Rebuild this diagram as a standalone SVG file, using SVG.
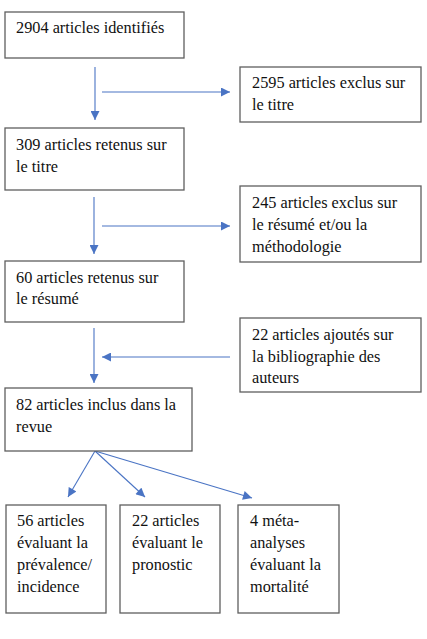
<svg xmlns="http://www.w3.org/2000/svg" width="427" height="639" viewBox="0 0 427 639">
<defs>
<style>
.box{fill:#fff;stroke:#5f5f5f;stroke-width:1.3}
.t{font-family:'Liberation Serif','Times New Roman',serif;font-size:16.3px;fill:#111}
.c{stroke:#4a74c4;stroke-width:1.1;fill:none;marker-end:url(#ah)}
</style>
<marker id="ah" viewBox="0 0 10 10" refX="10" refY="5" markerWidth="10" markerHeight="9" markerUnits="userSpaceOnUse" orient="auto">
<path d="M0,0 L10,5 L0,10 z" fill="#4a74c4"/>
</marker>
</defs>
<rect width="427" height="639" fill="#fff"/>
<g id="connectors">
<line class="c" x1="95" y1="67" x2="95" y2="120"/>
<line class="c" x1="102" y1="92" x2="230" y2="92"/>
<line class="c" x1="94" y1="197" x2="94" y2="254"/>
<line class="c" x1="102" y1="226" x2="230" y2="226"/>
<line class="c" x1="94" y1="328" x2="94" y2="383"/>
<line class="c" x1="230" y1="357" x2="102" y2="357"/>
<line class="c" x1="95" y1="451" x2="68" y2="497"/>
<line class="c" x1="95" y1="451" x2="145" y2="497"/>
<line class="c" x1="95" y1="451" x2="252" y2="498"/>
</g>
<g id="n1"><rect class="box" x="5" y="12" width="179" height="46"/><text class="t" x="16" y="33">2904 articles identifiés</text></g>
<g id="n2"><rect class="box" x="240" y="67" width="181" height="55"/><text class="t" x="252" y="88">2595 articles exclus sur</text><text class="t" x="252" y="110">le titre</text></g>
<g id="n3"><rect class="box" x="5" y="128" width="179" height="62"/><text class="t" x="16" y="150">309 articles retenus sur</text><text class="t" x="16" y="172">le titre</text></g>
<g id="n4"><rect class="box" x="240" y="186" width="181" height="76"/><text class="t" x="252" y="208">245 articles exclus sur</text><text class="t" x="252" y="230">le résumé et/ou la</text><text class="t" x="252" y="252">méthodologie</text></g>
<g id="n5"><rect class="box" x="5" y="261" width="179" height="61"/><text class="t" x="16" y="283">60 articles retenus sur</text><text class="t" x="16" y="304">le résumé</text></g>
<g id="n6"><rect class="box" x="240" y="318" width="181" height="74"/><text class="t" x="252" y="340">22 articles ajoutés sur</text><text class="t" x="252" y="362">la bibliographie des</text><text class="t" x="252" y="383">auteurs</text></g>
<g id="n7"><rect class="box" x="5" y="388" width="187" height="63"/><text class="t" x="16" y="410">82 articles inclus dans la</text><text class="t" x="16" y="432">revue</text></g>
<g id="n8"><rect class="box" x="6" y="505" width="100" height="108"/><text class="t" x="17" y="526">56 articles</text><text class="t" x="17" y="548">évaluant la</text><text class="t" x="17" y="570">prévalence/</text><text class="t" x="17" y="592">incidence</text></g>
<g id="n9"><rect class="box" x="120" y="505" width="100" height="108"/><text class="t" x="132" y="526">22 articles</text><text class="t" x="132" y="548">évaluant le</text><text class="t" x="132" y="570">pronostic</text></g>
<g id="n10"><rect class="box" x="238" y="505" width="101" height="108"/><text class="t" x="250" y="526">4 méta-</text><text class="t" x="250" y="548">analyses</text><text class="t" x="250" y="570">évaluant la</text><text class="t" x="250" y="592">mortalité</text></g>
</svg>
